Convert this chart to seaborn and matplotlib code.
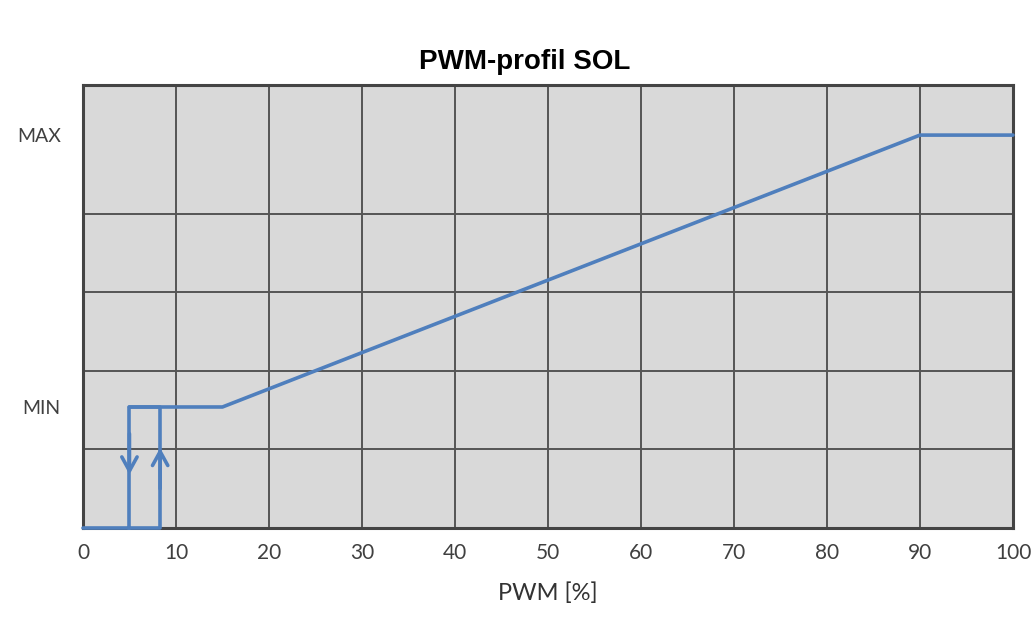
import matplotlib
matplotlib.use("Agg")
import matplotlib.pyplot as plt
import seaborn as sns
import pandas as pd

# ---- data ----
title = "PWM-profil SOL"
xlabel = "PWM [%]"
x_ticks = [0, 10, 20, 30, 40, 50, 60, 70, 80, 90, 100]
y_grid = [1, 2, 3, 4, 5]
MIN_LEVEL = 1.54
MAX_LEVEL = 5.0
y_tick_pos = [MIN_LEVEL, MAX_LEVEL]
y_tick_labels = ["MIN", "MAX"]

# hysteresis loop (start/stop)
hyst_x = [0, 8.3, 8.3, 5, 5]
hyst_y = [0, 0, MIN_LEVEL, MIN_LEVEL, 0]
# main profile
prof_x = [5, 15, 90, 100]
prof_y = [MIN_LEVEL, MIN_LEVEL, MAX_LEVEL, MAX_LEVEL]
# arrows: (x, y_from, y_to)
arrows = [(5, 1.2, 0.68), (8.3, 0.5, 1.02)]

sns.set_style("white")
plt.rcParams["font.family"] = ["Lato", "DejaVu Sans"]

fig = plt.figure(figsize=(10.33, 6.19), dpi=100)
ax = fig.add_axes([0.0803, 0.147, 0.9003, 0.716])
ax.set_facecolor("#d9d9d9")

blue = "#4f7fbd"
df_h = pd.DataFrame({"x": hyst_x, "y": hyst_y})
df_p = pd.DataFrame({"x": prof_x, "y": prof_y})
sns.lineplot(data=df_h, x="x", y="y", sort=False, estimator=None, ax=ax,
             color=blue, linewidth=2.6, zorder=5, clip_on=False)
sns.lineplot(data=df_p, x="x", y="y", sort=False, estimator=None, ax=ax,
             color=blue, linewidth=2.6, zorder=5, clip_on=False)

for ax_x, y0, y1 in arrows:
    ax.annotate("", xy=(ax_x, y1), xytext=(ax_x, y0),
                arrowprops=dict(arrowstyle="->,head_length=1.0,head_width=0.55",
                                color=blue, lw=2.6, shrinkA=0, shrinkB=0), zorder=6)

ax.set_xlim(0, 100)
ax.set_ylim(0, 5.64)

ax.set_xticks(x_ticks)
ax.set_xticklabels([str(v) for v in x_ticks], fontsize=15, color="#404040")
ax.set_yticks(y_tick_pos)
ax.set_yticklabels(y_tick_labels, fontsize=14, color="#404040")
ax.set_yticks(y_grid, minor=True)

ax.tick_params(axis="both", which="both", length=0)
ax.tick_params(axis="x", pad=11)
ax.tick_params(axis="y", pad=16)

ax.grid(False)
ax.xaxis.grid(True, which="major", color="#555555", linewidth=1.4)
ax.yaxis.grid(True, which="minor", color="#555555", linewidth=1.4)
ax.set_axisbelow(True)

for s in ax.spines.values():
    s.set_visible(True)
    s.set_color("#444444")
    s.set_linewidth(2.2)

ax.set_xlabel(xlabel, fontsize=17, color="#333333", labelpad=14)
ax.set_ylabel("")

fig.text(0.508, 0.900, title, ha="center", va="center", fontsize=20,
         fontweight="bold", family=["Liberation Sans", "DejaVu Sans"], color="black")

fig.savefig("out.png", dpi=100, facecolor="white")
